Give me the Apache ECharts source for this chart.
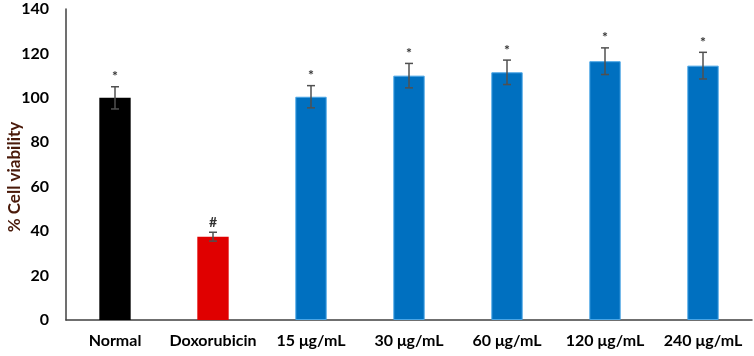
<!DOCTYPE html>
<html>
<head>
<meta charset="utf-8">
<script src="https://cdn.jsdelivr.net/npm/echarts@6/dist/echarts.min.js"></script>
<style>
  html, body { margin: 0; padding: 0; background: #fff; }
  #chart { width: 754px; height: 356px; }
</style>
</head>
<body>
<div id="chart"></div>
<script>
const categories = ["Normal", "Doxorubicin", "15 μg/mL", "30 μg/mL", "60 μg/mL", "120 μg/mL", "240 μg/mL"];
const viability = [100, 37.5, 100.5, 110, 111.5, 116.5, 114.5];
const errors = [5, 2, 5, 5.5, 5.5, 6, 6];
const marks = ["*", "#", "*", "*", "*", "*", "*"];
const barColors = ["#000000", "#e00000", "#0070c0", "#0070c0", "#0070c0", "#0070c0", "#0070c0"];
const yTicks = [0, 20, 40, 60, 80, 100, 120, 140];

const fontFamily = "Lato, 'Open Sans', sans-serif";

const chart = echarts.init(document.getElementById("chart"));
window.addEventListener("resize", () => chart.resize());

chart.setOption({
  animation: false,
  grid: { left: 66, right: 2, top: 9, bottom: 36, outerBoundsMode: "none", containLabel: false },
  xAxis: {
    type: "category",
    data: categories,
    axisLine: { lineStyle: { color: "#404040", width: 1.5 } },
    axisTick: { show: false },
    axisLabel: {
      margin: 13,
      color: "#000",
      fontWeight: "bold",
      fontSize: 16,
      fontFamily,
      interval: 0,
    },
  },
  yAxis: {
    type: "value",
    min: yTicks[0],
    max: yTicks[yTicks.length - 1],
    interval: 20,
    name: "% Cell viability",
    nameLocation: "middle",
    nameGap: 43,
    nameMoveOverlap: false,
    nameTextStyle: {
      color: "#4a1a0a",
      fontWeight: "bold",
      fontSize: 17,
      fontFamily,
      padding: [0, 0, 0, -25],
    },
    axisLine: { show: true, lineStyle: { color: "#404040", width: 1.5 } },
    axisTick: { show: false },
    splitLine: { show: false },
    axisLabel: {
      margin: 17,
      color: "#000",
      fontWeight: "bold",
      fontSize: 16,
      fontFamily,
    },
  },
  series: [
    {
      type: "bar",
      barWidth: "32%",
      data: viability.map((v, i) => ({
        value: v,
        itemStyle: {
          color: barColors[i],
          borderColor: i >= 2 ? "#4aa6e6" : barColors[i],
          borderWidth: i >= 2 ? 1 : 0,
        },
      })),
      z: 2,
    },
    {
      type: "custom",
      z: 3,
      data: viability.map((v, i) => [i, v - errors[i], v + errors[i]]),
      renderItem: (params, api) => {
        const i = api.value(0);
        const low = api.coord([i, api.value(1)]);
        const high = api.coord([i, api.value(2)]);
        const cap = 4;
        const style = { stroke: "#505050", lineWidth: 1.5 };
        return {
          type: "group",
          children: [
            { type: "line", shape: { x1: low[0], y1: low[1], x2: high[0], y2: high[1] }, style },
            { type: "line", shape: { x1: low[0] - cap, y1: low[1], x2: low[0] + cap, y2: low[1] }, style },
            { type: "line", shape: { x1: high[0] - cap, y1: high[1], x2: high[0] + cap, y2: high[1] }, style },
            {
              type: "text",
              style: {
                text: marks[params.dataIndex],
                x: high[0],
                y: high[1] - 3,
                align: "center",
                verticalAlign: "bottom",
                fill: "#333",
                font: "bold 14px " + fontFamily,
              },
            },
          ],
        };
      },
    },
  ],
});
</script>
</body>
</html>
